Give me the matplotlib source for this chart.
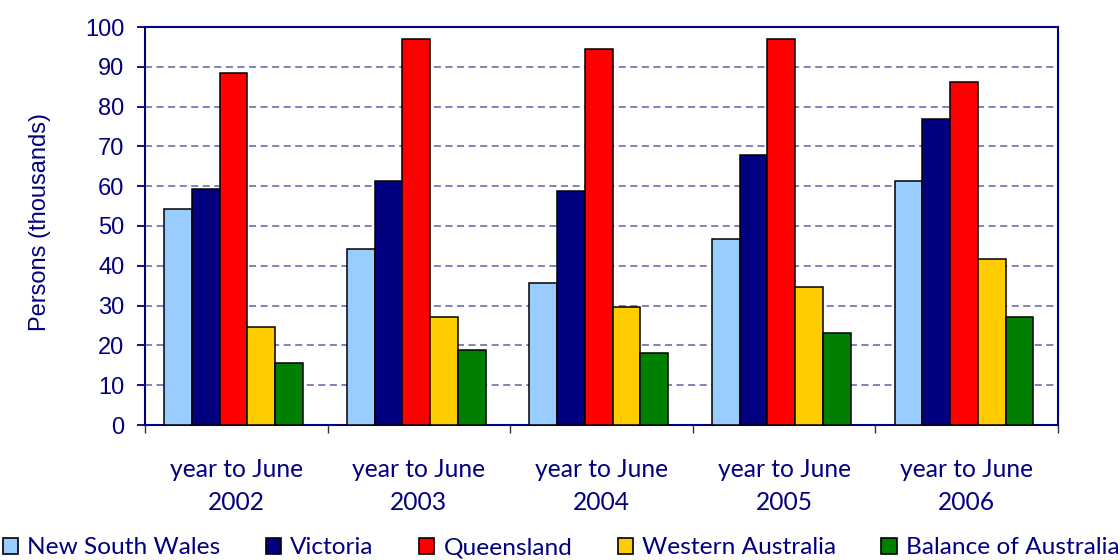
import matplotlib
matplotlib.use("Agg")
import matplotlib.pyplot as plt
from matplotlib.patches import Patch
import numpy as np

categories = ["year to June\n2002", "year to June\n2003", "year to June\n2004",
              "year to June\n2005", "year to June\n2006"]
series_names = ["New South Wales", "Victoria", "Queensland", "Western Australia",
                "Balance of Australia"]
nsw = [54.3, 44.3, 35.7, 46.7, 61.3]
vic = [59.4, 61.4, 58.9, 67.9, 77.0]
qld = [88.5, 97.1, 94.5, 97.1, 86.1]
wa = [24.6, 27.1, 29.6, 34.7, 41.7]
bal = [15.6, 18.8, 18.1, 23.1, 27.1]
yticks = [0, 10, 20, 30, 40, 50, 60, 70, 80, 90, 100]

series = [nsw, vic, qld, wa, bal]
colors = ["#99CCFF", "#000080", "#FF0000", "#FFCC00", "#008000"]
NAVY = "#000080"

W, H = 1120, 560
fig = plt.figure(figsize=(W / 100, H / 100), dpi=100)
L, R, T, B = 145, 1058, 27, 425
ax = fig.add_axes([L / W, 1 - B / H, (R - L) / W, (B - T) / H])

x = np.arange(len(categories))
bw = 0.152
for i, (vals, col) in enumerate(zip(series, colors)):
    ax.bar(x - 0.015 + (i - 2) * bw, vals, width=bw, color=col,
           edgecolor="black", linewidth=1.1, zorder=3, label=series_names[i])

ax.set_xlim(-0.5, len(categories) - 0.5)
ax.set_ylim(0, 100)
ax.set_yticks(yticks)
ax.set_yticklabels([str(v) for v in yticks], fontfamily="Liberation Sans",
                   fontsize=17, color=NAVY)
ax.tick_params(axis="y", direction="out", length=5.8, width=1.3, color=NAVY, pad=9)

# category boundaries as major ticks, labels at minor ticks
ax.set_xticks(np.arange(-0.5, len(categories), 1.0))
ax.set_xticklabels([])
ax.tick_params(axis="x", which="major", direction="out", length=5.8, width=1.0,
               color="#333333")
ax.set_xticks(x, minor=True)
ax.set_xticklabels(categories, minor=True, fontfamily="Lato", fontsize=17.7,
                   color=NAVY, linespacing=1.5)
ax.tick_params(axis="x", which="minor", length=0, pad=24)

for yv in yticks[1:-1]:
    ax.axhline(yv, color="#7878B8", linewidth=1.3, dashes=(3.9, 2.5), zorder=1)

for s in ax.spines.values():
    s.set_color(NAVY)
    s.set_linewidth(1.5)

ax.set_ylabel("Persons (thousands)", fontfamily="Liberation Sans", fontsize=17,
              color=NAVY)
ax.yaxis.set_label_coords(-0.103, 0.51)

handles = [Patch(facecolor=c, edgecolor="black", linewidth=1.2) for c in colors]
fig.legend(handles, series_names, loc="center left",
           bbox_to_anchor=(3 / W, 1 - 548 / H), ncol=5, frameon=False,
           prop={"family": "Lato", "size": 17.6}, labelcolor=NAVY,
           handlelength=0.62, handleheight=0.62, handletextpad=0.38,
           columnspacing=1.85, borderpad=0, borderaxespad=0)

fig.savefig("out.png", dpi=100)
